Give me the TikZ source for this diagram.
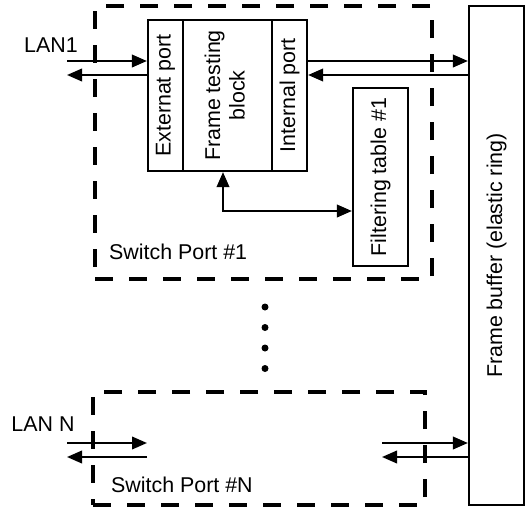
\documentclass[tikz,border=0pt]{standalone}
\usepackage{fontspec}
\setmainfont{Liberation Sans}
\usetikzlibrary{arrows.meta,calc}
\begin{document}
\begin{tikzpicture}[x=1pt,y=-1pt,
  every node/.style={font=\fontsize{21.4}{24.5}\selectfont, inner sep=0pt},
  blk/.style={draw, line width=2.2pt, rectangle, align=center},
  dbox/.style={draw, line width=3.4pt, dash pattern=on 18pt off 16pt, rectangle},
  conn/.style={line width=2.2pt, -{Triangle[length=15pt,width=12.5pt]}},
  dconn/.style={line width=2.2pt, {Triangle[length=15pt,width=12.5pt]}-{Triangle[length=15pt,width=12.5pt]}},
  dotn/.style={circle, fill, minimum size=7pt}]
\useasboundingbox (0,0) rectangle (531,509);
% dashed switch port boxes
\node[dbox, minimum width=337pt, minimum height=273pt] (sp1) at (263.5,142.5) {};
\node[dbox, minimum width=332pt, minimum height=113pt] (spn) at (259,448.5) {};
% frame buffer
\node[blk, minimum width=55pt, minimum height=499pt] (fb) at (496.5,255.5) {\rotatebox{90}{Frame buffer (elastic ring)}};
% block
\node[blk, minimum width=35pt, minimum height=151pt] (ext) at (165.5,95.5) {\rotatebox{90}{Externat port}};
\node[blk, minimum width=89pt, minimum height=151pt] (ftb) at (227.5,95.5) {\rotatebox{90}{\begin{tabular}{@{}c@{}}Frame testing\\block\end{tabular}}};
\node[blk, minimum width=35pt, minimum height=151pt] (int) at (289.5,95.5) {\rotatebox{90}{Internal port}};
\node[blk, minimum width=55pt, minimum height=178pt] (ft) at (380.5,177) {\rotatebox{90}{Filtering table \#1}};
% labels
\node (lan1) at (51,45) {LAN1};
\node (lann) at (43,424) {LAN N};
\node[anchor=west] (sp1l) at (109,252) {Switch Port \#1};
\node[anchor=west] (spnl) at (111,485) {Switch Port \#N};
% dots
\node[dotn] (d1) at (265,307) {};
\node[dotn] (d2) at (265,327.5) {};
\node[dotn] (d3) at (265,348) {};
\node[dotn] (d4) at (265,368.5) {};
% coordinates for free ends
\coordinate (l1a) at (67,61);
\coordinate (l1b) at (67,75);
\coordinate (c1) at (223,211);
\coordinate (lna) at (67,443);
\coordinate (lnb) at (67,457);
\coordinate (lnc) at (147,443);
\coordinate (lnd) at (147,457);
\coordinate (rna) at (382,443);
\coordinate (rnb) at (382,457);
% connectors top
\draw[conn] (l1a) -- (l1a -| ext.west);
\draw[conn] (l1b -| ext.west) -- (l1b);
\draw[conn] (l1a -| int.east) -- (l1a -| fb.west);
\draw[conn] (l1b -| fb.west) -- (l1b -| int.east);
\draw[dconn] (c1 |- ftb.south) -- (c1) -- (c1 -| ft.west);
% connectors bottom
\draw[conn] (lna) -- (lnc);
\draw[conn] (lnd) -- (lnb);
\draw[conn] (rna) -- (rna -| fb.west);
\draw[conn] (rnb -| fb.west) -- (rnb);
\end{tikzpicture}
\end{document}
